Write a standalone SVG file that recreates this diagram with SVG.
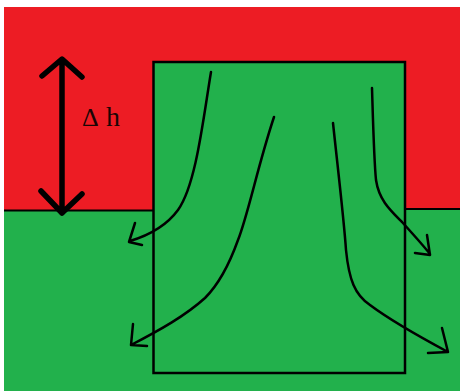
<svg xmlns="http://www.w3.org/2000/svg" width="460" height="391" viewBox="0 0 460 391">
<style>
.ln{fill:none;stroke:#000;stroke-width:2.5;stroke-linecap:round;stroke-linejoin:round}
.big{fill:none;stroke:#000;stroke-width:5.5;stroke-linecap:round;stroke-linejoin:round}
</style>
<rect x="0" y="0" width="460" height="391" fill="#ffffff"/>
<g id="background">
<rect x="4" y="7" width="456" height="384" fill="#22b14c"/>
<rect x="4" y="7" width="456" height="203" fill="#ed1c24"/>
<path d="M4,210.5 H153 M405,209 H460" stroke="#000" stroke-width="2" fill="none"/>
</g>
<g id="block">
<rect x="153.5" y="62" width="251.5" height="311" fill="#22b14c" stroke="#000" stroke-width="2.5"/>
</g>
<g id="dh">
<path class="big" d="M62,60 V213 M42,76 L62,59 L82,77 M41,191 L62,213 L82,194"/>
<text x="82" y="126" font-family="Liberation Serif, serif" fill="#1a0505"><tspan font-size="26">Δ</tspan><tspan x="106" font-size="28">h</tspan></text>
</g>
<g id="connectors">
<path class="ln" d="M211,72 C203,120 196,185 178,210 C167,225 150,235 130,241 M135,223 L129,242 L142,245"/>
<path class="ln" d="M274,117 C258,165 248,215 238,240 C228,268 218,285 205,298 C185,316 160,330 131,345 M133,324 L131,345 L147,346"/>
<path class="ln" d="M333,123 C338,170 344,220 346,250 C349,280 355,295 370,305 C390,320 420,337 448,352 M442,328 L448,352 L428,353"/>
<path class="ln" d="M372,88 C373,120 374,160 376,180 C379,200 390,210 402,222 C412,233 422,244 430,254 M427,235 L430,255 L415,253"/>
</g>
</svg>
